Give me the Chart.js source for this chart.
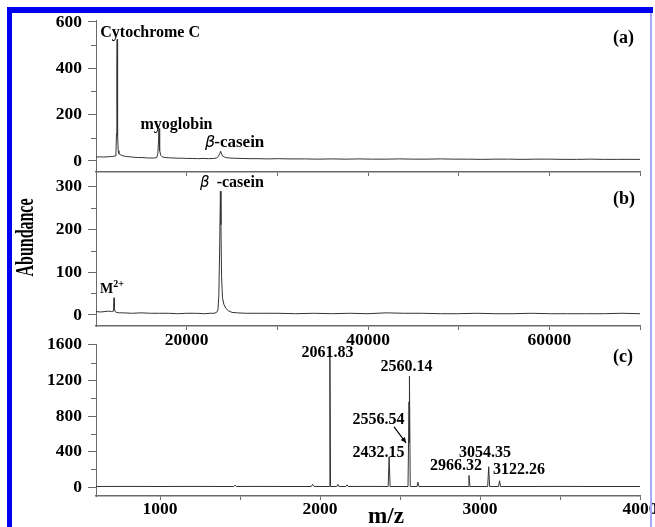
<!DOCTYPE html>
<html>
<head>
<meta charset="utf-8">
<script src="https://cdn.jsdelivr.net/npm/chart.js@4.4.0/dist/chart.umd.min.js"></script>
<style>
  html, body { margin: 0; padding: 0; background: #fff; }
  #wrap { position: relative; width: 655px; height: 527px; overflow: hidden; background: #fff; }
  #wrap canvas { position: absolute; left: 0; top: 0; }
  .bar { position: absolute; }
</style>
</head>
<body>
<div id="wrap">
  <canvas id="chartA" width="655" height="527"></canvas>
  <canvas id="chartB" width="655" height="527"></canvas>
  <canvas id="chartC" width="655" height="527"></canvas>
  <div class="bar" style="left:7px;top:7px;width:646px;height:6px;background:#0000f0"></div>
  <div class="bar" style="left:7px;top:7px;width:5px;height:520px;background:#0000f0"></div>
  <div class="bar" style="left:650px;top:13px;width:2px;height:514px;background:#a8a8ff"></div>
</div>
<script>
// panel (a): protein mixture, mass vs abundance
const aMass = [
  10000, 10400, 10800, 11200, 11600, 11900, 12100, 12200, 12260, 12300,
  12330, 12360, 12400, 12450, 12520, 12650, 12800, 13000, 13400, 13800,
  14200, 14600, 15000, 15400, 15800, 16200, 16500, 16700, 16820, 16900,
  16950, 16990, 17050, 17150, 17300, 17600, 18000, 18500, 19000, 19500,
  20000, 20600, 21200, 21800, 22400, 23000, 23300, 23500, 23650, 23750,
  23850, 24000, 24300, 24700, 25200, 26000, 27000, 28000, 29000, 30000,
  31500, 33000, 34500, 36000, 37500, 39000, 40500, 42000, 43500, 45000,
  46500, 48000, 49500, 51000, 52500, 54000, 55500, 57000, 58500, 60000,
  61500, 63000, 64500, 66000, 67500, 69000, 70000
];
const aAbund = [
  17, 18, 17, 18, 19, 20, 22, 35, 120, 380,
  525, 360, 110, 45, 32, 28, 25, 22, 19, 18,
  16, 15, 15, 14, 13, 13, 13, 15, 30, 90,
  140, 110, 45, 24, 18, 15, 14, 13, 12, 12,
  11, 11, 10, 11, 10, 11, 13, 20, 32, 42,
  30, 20, 15, 13, 12, 11, 10, 10, 9, 10,
  9, 9, 8, 9, 8, 9, 8, 8, 9, 8,
  8, 9, 8, 8, 7, 8, 8, 7, 8, 8,
  7, 7, 8, 7, 7, 7, 7
];

// panel (b): beta-casein
const bMass = [
  10000, 10500, 11000, 11400, 11700, 11880, 11940, 11990, 12040, 12100,
  12250, 12600, 13000, 14000, 15000, 16000, 17000, 18000, 19000, 20000,
  21000, 22000, 22600, 23000, 23300, 23450, 23550, 23650, 23720, 23780,
  23850, 23950, 24100, 24300, 24600, 25000, 25600, 26500, 28000, 30000,
  32000, 34000, 36000, 38000, 40000, 42000, 44000, 46000, 48000, 50000,
  52000, 54000, 56000, 58000, 60000, 62000, 64000, 66000, 68000, 70000
];
const bAbund = [
  8, 7, 8, 9, 8, 9, 18, 40, 16, 8,
  6, 5, 5, 4, 5, 4, 4, 4, 3, 4,
  4, 3, 4, 4, 6, 12, 45, 170, 288, 210,
  90, 40, 25, 16, 10, 6, 5, 4, 4, 4,
  3, 4, 3, 4, 3, 5, 4, 4, 3, 3,
  4, 3, 3, 4, 3, 3, 3, 3, 4, 3
];

// panel (c): peptide spectrum, m/z vs abundance
const cMz = [
  600, 800, 1000, 1200, 1400, 1460, 1469, 1478, 1600, 1800,
  1945, 1954, 1963, 2050, 2058, 2061.83, 2066, 2105, 2112, 2119,
  2162, 2169, 2176, 2300, 2426, 2432.15, 2438, 2550, 2556.54, 2558,
  2560.14, 2564, 2606, 2612, 2618, 2800, 2925, 2931, 2937, 3048,
  3054.35, 3060, 3116, 3122.26, 3128, 3300, 3500, 3700, 3900, 4000
];
const cInt = [
  6, 7, 6, 7, 6, 6, 20, 6, 7, 6,
  6, 30, 6, 6, 6, 1480, 6, 6, 30, 6,
  6, 25, 6, 7, 6, 340, 6, 6, 960, 500,
  1250, 6, 6, 55, 6, 6, 6, 130, 6, 6,
  229, 6, 6, 71, 6, 6, 7, 6, 6, 6
];

// ticks
const abTicksX = [20000, 30000, 40000, 50000, 60000, 70000];
const abLabelsX = [20000, 40000, 60000];
const cTicksX = [1000, 1500, 2000, 2500, 3000, 3500, 4000];
const cLabelsX = [1000, 2000, 3000, 4000];
const aTicksY = [0, 200, 400, 600];
const aMinorY = [100, 300, 500];
const bTicksY = [0, 100, 200, 300];
const bMinorY = [50, 150, 250];
const cTicksY = [0, 400, 800, 1200, 1600];
const cMinorY = [200, 600, 1000, 1400];

const serif = "'Liberation Serif', 'Times New Roman', serif";
const tickFont = { family: serif, size: 17.5, weight: 'bold' };
const axisColor = '#6a6a6a';
const lineColor = '#333';

function yAxis(min, max, majors) {
  return {
    type: 'linear', position: 'left', min: min, max: max,
    afterFit: s => { s.width = 96; },
    afterBuildTicks: s => { s.ticks = majors.map(v => ({ value: v })); },
    ticks: { font: tickFont, color: '#000', padding: 6, callback: v => String(v) },
    grid: { drawOnChartArea: false, tickLength: 8, color: axisColor },
    border: { color: axisColor, width: 1 }
  };
}

// labels are clipped to the axis box, so keep a height when they are shown
function xAxis(min, max, tickVals, labelVals, h, gap) {
  return {
    type: 'linear', position: 'bottom', min: min, max: max,
    afterFit: s => { s.height = h; s.paddingLeft = 0; s.paddingRight = 0; },
    afterBuildTicks: s => { s.ticks = tickVals.map(v => ({ value: v })); },
    ticks: {
      display: h > 0, font: tickFont, color: '#000', padding: gap,
      maxRotation: 0, autoSkip: false,
      callback: v => labelVals.includes(v) ? String(v) : ''
    },
    grid: { drawOnChartArea: false, tickLength: 4, color: axisColor },
    border: { color: axisColor, width: 1.5 }
  };
}

function text(ctx, s, x, y, size, align) {
  ctx.font = 'bold ' + size + 'px ' + serif;
  ctx.textAlign = align || 'center';
  ctx.textBaseline = 'alphabetic';
  ctx.fillStyle = '#000';
  ctx.fillText(s, x, y);
}

function betaCasein(ctx, bx, cx, y, size) {
  ctx.font = "italic " + (size - 1) + "px 'DejaVu Sans', sans-serif";
  ctx.textAlign = 'left';
  ctx.textBaseline = 'alphabetic';
  ctx.fillStyle = '#000';
  ctx.fillText('β', bx, y);
  text(ctx, '-casein', cx, y, size, 'left');
}

function minorTicks(values) {
  return {
    id: 'minorTicks',
    afterDraw(chart) {
      const s = chart.scales.y, ctx = chart.ctx;
      ctx.save();
      ctx.strokeStyle = axisColor;
      ctx.lineWidth = 1;
      values.forEach(v => {
        const py = Math.round(s.getPixelForValue(v)) + 0.5;
        ctx.beginPath();
        ctx.moveTo(s.right - 5, py);
        ctx.lineTo(s.right, py);
        ctx.stroke();
      });
      ctx.restore();
    }
  };
}

function labels(draw) {
  return { id: 'peakLabels', afterDraw(chart) { chart.ctx.save(); draw(chart, chart.ctx); chart.ctx.restore(); } };
}

function makeChart(id, xs, ys, xScale, yScale, pad, extra) {
  return new Chart(document.getElementById(id), {
    type: 'line',
    data: {
      datasets: [{
        data: xs.map((x, i) => ({ x: x, y: ys[i] })),
        borderColor: lineColor, borderWidth: 1, pointRadius: 0, tension: 0, fill: false
      }]
    },
    options: {
      responsive: false, animation: false, devicePixelRatio: 1,
      layout: { padding: pad },
      plugins: { legend: { display: false }, tooltip: { enabled: false } },
      scales: { x: xScale, y: yScale }
    },
    plugins: extra
  });
}

const pxA = (c, x, y) => [c.scales.x.getPixelForValue(x), c.scales.y.getPixelForValue(y)];

makeChart('chartA', aMass, aAbund,
  xAxis(10000, 70000, abTicksX, abLabelsX, 0, 0),
  yAxis(-47.5, 608.6, aTicksY),
  { left: 0, right: 15, top: 20, bottom: 355 },
  [minorTicks(aMinorY), labels((c, ctx) => {
    let p = pxA(c, 12330, 525);
    text(ctx, 'Cytochrome C', p[0] + 33, p[1] - 2.4, 16);
    p = pxA(c, 16950, 140);
    text(ctx, 'myoglobin', p[0] + 17.5, p[1] + 0.6, 16);
    p = pxA(c, 23750, 42);
    betaCasein(ctx, p[0] - 15.7, p[0] - 6.4, p[1] - 4, 17);
    text(ctx, '(a)', c.chartArea.right - 6, c.chartArea.top + 23, 18, 'right');
  })]);

makeChart('chartB', bMass, bAbund,
  xAxis(10000, 70000, abTicksX, abLabelsX, 30, 0),
  yAxis(-25.6, 332.6, bTicksY),
  { left: 0, right: 15, top: 172, bottom: 171 },
  [minorTicks(bMinorY), labels((c, ctx) => {
    let p = pxA(c, 23720, 288);
    betaCasein(ctx, p[0] - 20.4, p[0] - 3.7, p[1] - 4.2, 16);
    p = pxA(c, 11990, 40);
    text(ctx, 'M', p[0] - 14, p[1] - 5.1, 14, 'left');
    ctx.font = 'bold 14px ' + serif;
    const mW = ctx.measureText('M').width;
    text(ctx, '2+', p[0] - 14 + mW, p[1] - 10.8, 10, 'left');
    text(ctx, '(b)', c.chartArea.right - 5, c.chartArea.top + 32, 18, 'right');
  })]);

makeChart('chartC', cMz, cInt,
  xAxis(600, 4000, cTicksX, cLabelsX, 28, -1),
  yAxis(-101, 1611, cTicksY),
  { left: 0, right: 15, top: 344, bottom: 3 },
  [minorTicks(cMinorY), labels((c, ctx) => {
    const peaks = [
      ['2061.83', 2061.83, 1480, -2.4, 1.4],
      ['2560.14', 2560.14, 1250, -3, -5],
      ['2556.54', 2556.54, 960, -30.5, 22],
      ['2432.15', 2432.15, 340, -10.6, 0],
      ['2966.32', 2931, 130, -13, -5.5],
      ['3054.35', 3054.35, 229, -3.7, -9.7],
      ['3122.26', 3122.26, 71, 19.4, -6.7]
    ];
    peaks.forEach(pk => {
      const p = pxA(c, pk[1], pk[2]);
      text(ctx, pk[0], p[0] + pk[3], p[1] + pk[4], 16);
    });
    // arrow to 2556.54
    const a = pxA(c, 2556.54, 960);
    const x1 = a[0] - 15, y1 = a[1] + 25, x2 = a[0] - 3, y2 = a[1] + 41;
    ctx.strokeStyle = '#000'; ctx.fillStyle = '#000'; ctx.lineWidth = 1.2;
    ctx.beginPath(); ctx.moveTo(x1, y1); ctx.lineTo(x2, y2); ctx.stroke();
    const ang = Math.atan2(y2 - y1, x2 - x1);
    ctx.beginPath();
    ctx.moveTo(x2, y2);
    ctx.lineTo(x2 - 6 * Math.cos(ang - 0.45), y2 - 6 * Math.sin(ang - 0.45));
    ctx.lineTo(x2 - 6 * Math.cos(ang + 0.45), y2 - 6 * Math.sin(ang + 0.45));
    ctx.closePath(); ctx.fill();
    text(ctx, '(c)', c.chartArea.right - 7, c.chartArea.top + 18, 18, 'right');

    // shared axis titles
    ctx.font = 'bold 24px ' + serif;
    const mw = ctx.measureText('m/z').width;
    ctx.save();
    ctx.translate(386, 523);
    ctx.scale(36 / mw, 1);
    text(ctx, 'm/z', 0, 0, 24);
    ctx.restore();

    ctx.font = 'bold 26px ' + serif;
    const aw = ctx.measureText('Abundance').width;
    ctx.save();
    ctx.translate(33, 237.5);
    ctx.rotate(-Math.PI / 2);
    ctx.scale(78 / aw, 1);
    text(ctx, 'Abundance', 0, 0, 26);
    ctx.restore();
  })]);
</script>
</body>
</html>
